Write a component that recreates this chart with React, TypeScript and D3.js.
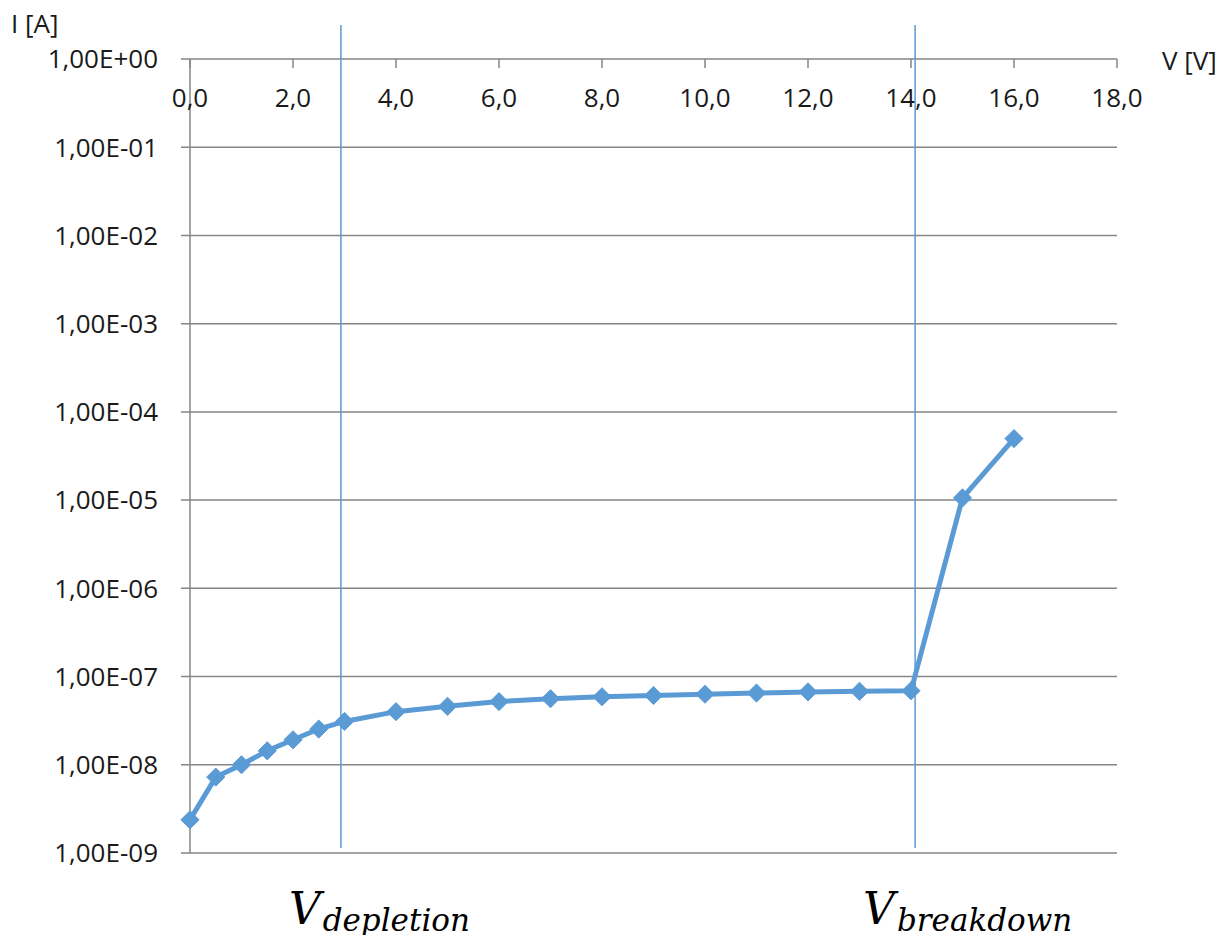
import React, { useEffect, useRef } from 'react'
import * as d3 from 'd3'

const voltage = [0, 0.5, 1, 1.5, 2, 2.5, 3, 4, 5, 6, 7, 8, 9, 10, 11, 12, 13, 14, 15, 16]
const current = [
  2.38e-9, 7.25e-9, 1.0e-8, 1.44e-8, 1.92e-8, 2.54e-8, 3.1e-8, 4.0e-8, 4.6e-8, 5.2e-8,
  5.6e-8, 5.9e-8, 6.1e-8, 6.3e-8, 6.5e-8, 6.7e-8, 6.8e-8, 6.9e-8, 1.06e-5, 4.98e-5,
]
const xTicks = [0, 2, 4, 6, 8, 10, 12, 14, 16, 18]
const yTicks = [1e0, 1e-1, 1e-2, 1e-3, 1e-4, 1e-5, 1e-6, 1e-7, 1e-8, 1e-9]
const markerLines = [
  { v: 2.93, main: 'V', sub: 'depletion' },
  { v: 14.08, main: 'V', sub: 'breakdown' },
]

const W = 1231
const H = 943
const margin = { top: 59, right: 114, bottom: 90, left: 190 }

const fmtY = (d: number) => {
  const e = Math.round(Math.log10(d))
  const sign = e >= 0 ? '+' : '-'
  return '1,00E' + sign + String(Math.abs(e)).padStart(2, '0')
}
const fmtX = (d: number) => d.toFixed(1).replace('.', ',')

export default function App() {
  const ref = useRef<SVGSVGElement>(null)

  useEffect(() => {
    const svg = d3.select(ref.current)
    svg.selectAll('*').remove()

    const width = W - margin.left - margin.right
    const height = H - margin.top - margin.bottom

    const x = d3.scaleLinear().domain([0, 18]).range([0, width])
    const y = d3.scaleLog().domain([1e-9, 1]).range([height, 0])

    const g = svg.append('g').attr('transform', `translate(${margin.left},${margin.top})`)
    const font = "'Open Sans', sans-serif"
    const fs = '26px'
    const grey = '#868686'
    const blue = '#5b9bd5'
    const ink = '#1a1a1a'

    // horizontal gridlines + left ticks
    g.append('g')
      .selectAll('line')
      .data(yTicks)
      .enter()
      .append('line')
      .attr('x1', -9)
      .attr('x2', width)
      .attr('y1', d => y(d))
      .attr('y2', d => y(d))
      .style('stroke', grey)
      .style('stroke-width', 1.5)

    // y axis line
    g.append('line')
      .attr('x1', 0).attr('x2', 0)
      .attr('y1', 0).attr('y2', height)
      .style('stroke', grey)
      .style('stroke-width', 1.5)

    // y tick labels
    g.append('g')
      .selectAll('text')
      .data(yTicks)
      .enter()
      .append('text')
      .attr('x', -32)
      .attr('y', d => y(d))
      .attr('dy', '0.36em')
      .attr('text-anchor', 'end')
      .style('font-family', font)
      .style('font-size', fs)
      .style('fill', ink)
      .text(fmtY)

    // x axis ticks (downward from top axis)
    g.append('g')
      .selectAll('line')
      .data(xTicks)
      .enter()
      .append('line')
      .attr('x1', d => x(d))
      .attr('x2', d => x(d))
      .attr('y1', 0)
      .attr('y2', 9)
      .style('stroke', grey)
      .style('stroke-width', 1.5)

    g.append('g')
      .selectAll('text')
      .data(xTicks)
      .enter()
      .append('text')
      .attr('x', d => x(d))
      .attr('y', 48)
      .attr('text-anchor', 'middle')
      .style('font-family', font)
      .style('font-size', fs)
      .style('fill', ink)
      .text(fmtX)

    // axis titles
    svg.append('text')
      .attr('x', 11)
      .attr('y', 33)
      .style('font-family', font)
      .style('font-size', fs)
      .style('fill', ink)
      .text('I [A]')
    svg.append('text')
      .attr('x', 1162)
      .attr('y', 70)
      .style('font-family', font)
      .style('font-size', fs)
      .style('fill', ink)
      .text('V [V]')

    // annotation lines
    g.append('g')
      .selectAll('line')
      .data(markerLines)
      .enter()
      .append('line')
      .attr('x1', d => x(d.v))
      .attr('x2', d => x(d.v))
      .attr('y1', -34)
      .attr('y2', height - 5)
      .style('stroke', blue)
      .style('stroke-width', 1.5)

    const lbl = g.append('g')
      .selectAll('text')
      .data(markerLines)
      .enter()
      .append('text')
      .attr('x', d => x(d.v) - 52)
      .attr('y', height + 71)
      .style('font-family', "'DejaVu Serif', serif")
      .style('font-style', 'italic')
      .style('fill', '#000')
    lbl.append('tspan').style('font-size', '44px').text(d => d.main)
    lbl.append('tspan').attr('dy', 7).attr('dx', 2).style('font-size', '31px').text(d => d.sub)

    // series
    const pts = voltage.map((v, i) => [v, current[i]] as [number, number])
    const line = d3.line<[number, number]>().x(d => x(d[0])).y(d => y(d[1]))
    g.append('path')
      .datum(pts)
      .attr('d', line)
      .style('fill', 'none')
      .style('stroke', blue)
      .style('stroke-width', 5)
      .style('stroke-linejoin', 'round')

    const diamond = d3.symbol().type(d3.symbolDiamond2).size(210)
    g.append('g')
      .selectAll('path')
      .data(pts)
      .enter()
      .append('path')
      .attr('d', diamond)
      .attr('transform', d => `translate(${x(d[0])},${y(d[1])})`)
      .style('fill', blue)
      .style('stroke', blue)
  }, [])

  return (
    <div>
      <svg ref={ref} width={W} height={H} style={{ display: 'block', margin: -8, background: '#fff' }} />
    </div>
  )
}
